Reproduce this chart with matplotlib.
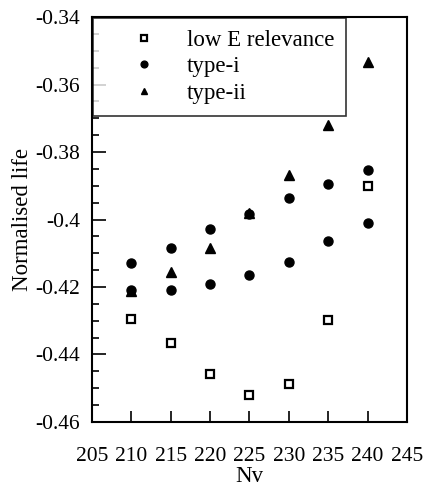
import matplotlib
matplotlib.use("Agg")
import matplotlib.pyplot as plt
from matplotlib.ticker import MultipleLocator, FuncFormatter

# --- dane ---
nv = [210, 215, 220, 225, 230, 235, 240]
low_e = [-0.4296, -0.4367, -0.4458, -0.4521, -0.4486, -0.4298, -0.3902]
type_i_upper = [-0.4128, -0.4085, -0.4028, -0.3985, -0.3935, -0.3894, -0.3853]
type_i_lower = [-0.4210, -0.4208, -0.4190, -0.4163, -0.4127, -0.4063, -0.4009]
type_ii = [-0.4212, -0.4155, -0.4083, -0.3982, -0.3867, -0.3720, -0.3533]

plt.rcParams["font.family"] = ["Liberation Serif", "DejaVu Serif"]
plt.rcParams["axes.unicode_minus"] = False

fig = plt.figure(figsize=(4.23, 4.87), dpi=100)
ax = fig.add_axes([0.2175, 0.1335, 0.7445, 0.8315])

ax.plot(nv, low_e, "s", ms=6, mfc="white", mec="black", mew=1.6,
        ls="none", label="low E relevance")
ax.plot(nv + nv, type_i_upper + type_i_lower, "o", ms=6.5, color="black",
        ls="none", label="type-i")
ax.plot(nv, type_ii, "^", ms=6.5, color="black", ls="none", label="type-ii")

ax.set_xlim(205, 245)
ax.set_ylim(-0.46, -0.34)
ax.xaxis.set_major_locator(MultipleLocator(5))
ax.yaxis.set_major_locator(MultipleLocator(0.02))
ax.yaxis.set_minor_locator(MultipleLocator(0.005))
ax.yaxis.set_major_formatter(FuncFormatter(lambda v, p: f"{v:g}"))

ax.tick_params(axis="x", direction="in", length=8, width=1.2, pad=18,
               labelsize=15.5, top=False)
ax.tick_params(axis="y", which="major", direction="in", length=10, width=1.2,
               pad=8.5, labelsize=15.5, right=False)
ax.tick_params(axis="y", which="minor", direction="in", length=5, width=1.2,
               right=False)
for s in ax.spines.values():
    s.set_linewidth(1.5)

ax.set_xlabel("Nv", fontsize=16.5, labelpad=0)
ax.set_ylabel("Normalised life", fontsize=16.5, labelpad=2)

leg = ax.legend(loc="upper left", fontsize=16.5, frameon=True, fancybox=False,
                edgecolor="black", borderaxespad=0.05, handletextpad=0.2,
                labelspacing=0.25, borderpad=0.5, handlelength=3.4,
                markerscale=0.75)
leg.get_frame().set_linewidth(1.2)

fig.savefig("out.png", dpi=100)
